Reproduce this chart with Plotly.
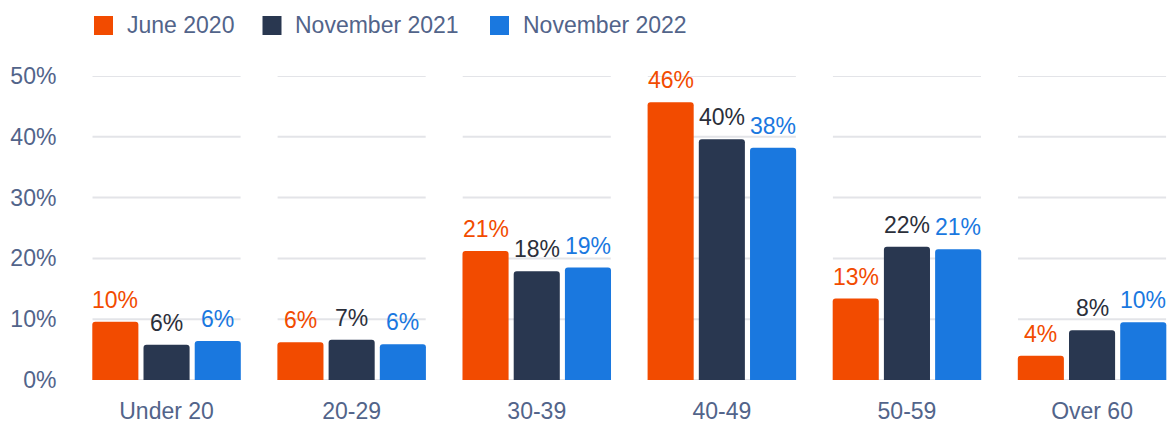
import plotly.graph_objects as go

categories = ["Under 20", "20-29", "30-39", "40-49", "50-59", "Over 60"]
series_names = ["June 2020", "November 2021", "November 2022"]
june_2020 = [9.6, 6.2, 21.2, 45.7, 13.4, 4.0]
nov_2021 = [5.8, 6.6, 17.9, 39.6, 21.9, 8.2]
nov_2022 = [6.4, 5.9, 18.5, 38.2, 21.5, 9.5]
june_2020_labels = ["10%", "6%", "21%", "46%", "13%", "4%"]
nov_2021_labels = ["6%", "7%", "18%", "40%", "22%", "8%"]
nov_2022_labels = ["6%", "6%", "19%", "38%", "21%", "10%"]
y_ticks = [0, 10, 20, 30, 40, 50]
y_tick_labels = ["0%", "10%", "20%", "30%", "40%", "50%"]

colors = ["#F24B00", "#293750", "#1A78DF"]
label_colors = ["#F24B00", "#2B2F3A", "#1A78DF"]
axis_text = "#52648A"
FONT = "Liberation Sans"
FS = 23

W, H = 1168, 423
ML, MR, MT, MB = 74, 0, 76, 43
PW, PH = W - ML - MR, H - MT - MB
BARGAP, GROUPGAP = 0.17, 0.1
XMIN = -0.5
CAT_PX = 185.1
XMAX = XMIN + PW / CAT_PX
SLOT_PX = CAT_PX * (1 - BARGAP) / 3

all_vals = [june_2020, nov_2021, nov_2022]
all_labels = [june_2020_labels, nov_2021_labels, nov_2022_labels]

fig = go.Figure()
annotations = []
for j, (name, vals, labs, c, lc) in enumerate(zip(series_names, all_vals, all_labels,
                                                  colors, label_colors)):
    fig.add_trace(go.Bar(
        x=categories, y=vals, name=name, marker_color=c, marker_line_width=0,
        showlegend=False, hoverinfo="skip",
    ))
    for cat, v, lab in zip(categories, vals, labs):
        annotations.append(dict(
            x=cat, y=v, xref="x", yref="y", text=lab, showarrow=False,
            xanchor="center", yanchor="bottom", xshift=(j - 1) * SLOT_PX, yshift=7,
            font=dict(color=lc, size=FS, family=FONT),
        ))

# custom legend (squares + text), positioned in pixels
legend_sq_centers = [103.5, 272, 499.5]
legend_y = 25.5
SQ = 19
shapes = []
def px_to_paper_x(px):
    return (px - ML) / PW
def py_to_paper_y(py):
    return (H - MB - py) / PH
for j, name in enumerate(series_names):
    cx = legend_sq_centers[j]
    shapes.append(dict(type="rect", xref="paper", yref="paper",
                       x0=px_to_paper_x(cx - SQ / 2), x1=px_to_paper_x(cx + SQ / 2),
                       y0=py_to_paper_y(legend_y + SQ / 2), y1=py_to_paper_y(legend_y - SQ / 2),
                       fillcolor=colors[j], line=dict(width=0)))
    annotations.append(dict(x=px_to_paper_x(cx + 21), y=py_to_paper_y(legend_y),
                            xref="paper", yref="paper", text=name, showarrow=False,
                            xanchor="left", yanchor="middle",
                            font=dict(color=axis_text, size=FS, family=FONT)))

# per-group gridline segments
half = 0.4
for i, _ in enumerate(categories):
    for t in y_ticks:
        shapes.append(dict(type="line", xref="x", yref="y", x0=i - half, x1=i + half,
                           y0=t, y1=t, line=dict(color="#E3E4E8", width=2), layer="below"))

fig.update_layout(
    shapes=shapes, annotations=annotations,
    width=W, height=H,
    margin=dict(l=ML, r=MR, t=MT, b=MB),
    paper_bgcolor="white", plot_bgcolor="white",
    barmode="group", bargap=BARGAP, bargroupgap=GROUPGAP,
    barcornerradius=3, showlegend=False,
    font=dict(family=FONT, size=FS, color=axis_text),
    xaxis=dict(range=[XMIN, XMAX], showgrid=False, zeroline=False,
               showline=False, ticks="outside", ticklen=10, tickcolor="rgba(0,0,0,0)",
               tickfont=dict(size=FS, color=axis_text, family=FONT), fixedrange=True),
    yaxis=dict(range=[0, 50], tickvals=y_ticks, ticktext=y_tick_labels,
               showgrid=False, zeroline=False, showline=False,
               ticks="outside", ticklen=12, tickcolor="rgba(0,0,0,0)",
               tickfont=dict(size=FS, color=axis_text, family=FONT), fixedrange=True),
)

fig.write_html("out.html", config={"displayModeBar": False},
               post_script="document.body.style.margin='0';document.body.style.overflow='hidden';")
